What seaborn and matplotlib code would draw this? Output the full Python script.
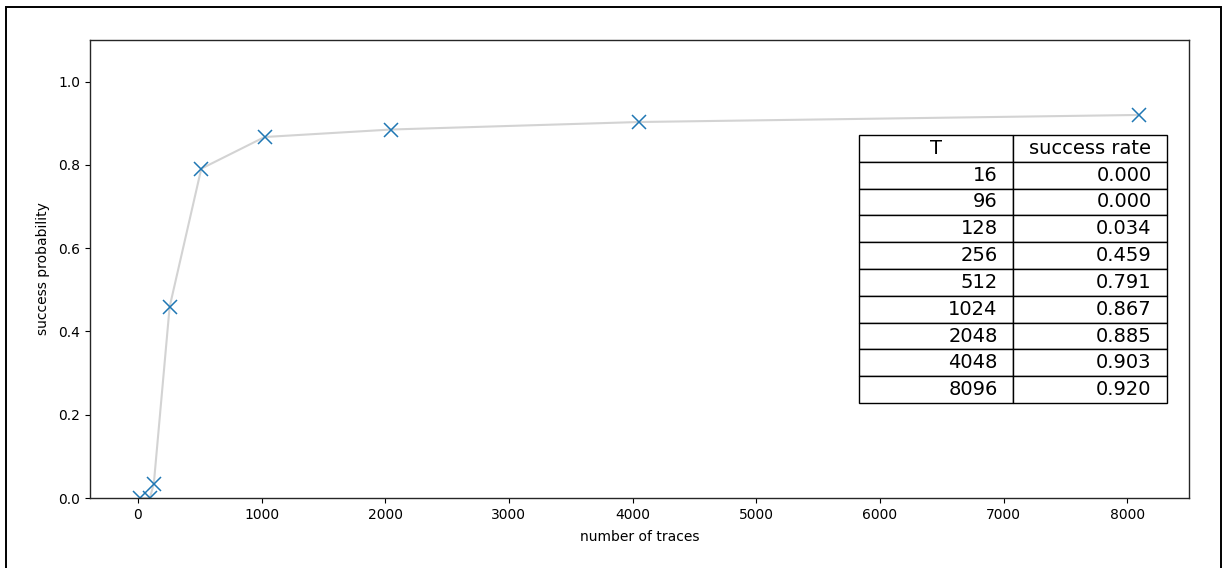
import matplotlib
matplotlib.use("Agg")
import matplotlib.pyplot as plt
import matplotlib.patches as mpatches
import seaborn as sns
import pandas as pd

traces = [16, 96, 128, 256, 512, 1024, 2048, 4048, 8096]
success = [0.000, 0.000, 0.034, 0.459, 0.791, 0.867, 0.885, 0.903, 0.920]
col_labels = ["T", "success rate"]

sns.set_style("ticks", {"axes.edgecolor": "0.15", "xtick.color": "black",
                        "ytick.color": "black", "text.color": "black",
                        "axes.labelcolor": "black"})
plt.rcParams.update({
    "font.family": ["DejaVu Sans"],
    "font.size": 10,
    "xtick.major.size": 3.5,
    "ytick.major.size": 3.5,
    "xtick.color": "black",
    "ytick.color": "black",
    "text.color": "black",
    "axes.labelcolor": "black",
    "axes.linewidth": 1.0,
})

df = pd.DataFrame({"traces": traces, "success": success})

fig = plt.figure(figsize=(12.22, 5.68), dpi=100)
ax = fig.add_axes([90 / 1222, 70 / 568, (1189 - 90) / 1222, (498 - 40) / 568])

sns.lineplot(data=df, x="traces", y="success", ax=ax, color="lightgray",
             linewidth=1.5, marker="x", markersize=10, markeredgecolor="#1f77b4",
             markeredgewidth=1.1, sort=False)

ax.set_ylim(0, 1.1)
ax.set_xlabel("number of traces", labelpad=6)
ax.set_ylabel("success probability", labelpad=6)
ax.set_xticks([0, 1000, 2000, 3000, 4000, 5000, 6000, 7000, 8000])
ax.set_yticks([0.0, 0.2, 0.4, 0.6, 0.8, 1.0])

cell_text = [[str(t), f"{s:.3f}"] for t, s in zip(traces, success)]
tbl = ax.table(cellText=cell_text, colLabels=col_labels, colLoc="center",
               cellLoc="right", bbox=[0.6997, 0.2074, 0.2802, 0.5852])
tbl.auto_set_font_size(False)
tbl.set_fontsize(14)
for cell in tbl.get_celld().values():
    cell.set_linewidth(1.0)
    cell.set_edgecolor("black")
    cell.get_text().set_color("black")

frame = mpatches.Rectangle((6 / 1222, -0.1), (1220.5 - 6) / 1222, 1.1 - 7 / 568,
                           transform=fig.transFigure, fill=False,
                           edgecolor="black", linewidth=1.4, clip_on=False)
fig.patches.append(frame)

fig.savefig("out.png", dpi=100)
